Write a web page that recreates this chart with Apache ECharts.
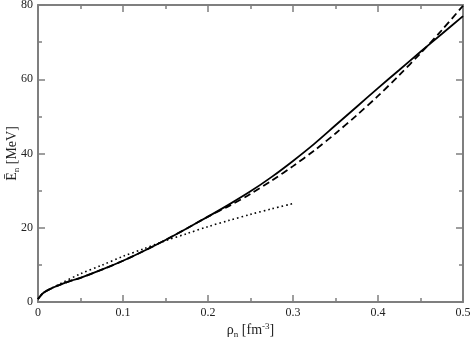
<!DOCTYPE html>
<html>
<head>
<meta charset="utf-8">
<script src="https://cdn.jsdelivr.net/npm/echarts@6/dist/echarts.min.js"></script>
<style>
  html, body { margin: 0; padding: 0; background: #fff; }
  #chart { width: 471px; height: 342px; }
</style>
</head>
<body>
<div id="chart"></div>
<script>
// density grid (fm^-3)
var rho = [0, 0.005, 0.01, 0.02, 0.03, 0.04, 0.05, 0.075, 0.1, 0.125, 0.15, 0.175, 0.2,
           0.225, 0.25, 0.275, 0.3, 0.325, 0.35, 0.375, 0.4, 0.425, 0.45, 0.475, 0.5];
// solid curve (MeV)
var eSolid = [0.8, 2.2, 3.0, 4.1, 5.0, 5.8, 6.5, 8.7, 11.1, 13.8, 16.7, 19.8, 23.0,
              26.3, 29.8, 33.7, 38.0, 42.6, 47.6, 52.6, 57.6, 62.5, 67.4, 72.2, 77.0];
// dashed curve (MeV)
var eDashed = [0.8, 2.2, 3.0, 4.1, 5.0, 5.8, 6.5, 8.7, 11.1, 13.8, 16.7, 19.8, 23.0,
               25.9, 29.1, 32.7, 36.6, 40.8, 45.4, 50.3, 55.5, 61.1, 67.0, 73.2, 79.8];
// dotted curve, stops at 0.3
var rhoDot = [0, 0.005, 0.01, 0.025, 0.05, 0.075, 0.1, 0.125, 0.15, 0.175, 0.2, 0.225, 0.25, 0.275, 0.3];
var eDotted = [0.8, 2.2, 3.0, 4.8, 7.6, 9.9, 12.3, 14.4, 16.5, 18.4, 20.3, 22.0, 23.6, 25.1, 26.5];

var xTicks = [0, 0.1, 0.2, 0.3, 0.4, 0.5];
var yTicks = [0, 20, 40, 60, 80];

function pairs(xs, ys) {
  var out = [];
  for (var i = 0; i < xs.length; i++) out.push([xs[i], ys[i]]);
  return out;
}

var font = 'Liberation Serif';
var gray = '#7f7f7f';

function axisBase(show) {
  return {
    axisLine: { show: true, onZero: false, lineStyle: { color: gray, width: 2 } },
    axisTick: { show: true, inside: true, length: 7, lineStyle: { color: gray, width: 1.5 } },
    minorTick: { show: true, splitNumber: 2, length: 4, lineStyle: { color: gray, width: 1.5 } },
    splitLine: { show: false },
    axisLabel: { show: show, fontFamily: font, fontSize: 12, color: '#222', margin: 5 }
  };
}

var xMain = echarts.util.merge(axisBase(true), {
  type: 'value', position: 'bottom', min: 0, max: 0.5, interval: 0.1,
  name: '{e|ρ}{s|n}{e| [fm}{p|-3}{e|]}',
  nameLocation: 'middle', nameGap: 20, nameMoveOverlap: false,
  nameTextStyle: {
    fontFamily: font, color: '#222',
    rich: {
      e: { fontFamily: font, fontSize: 14, color: '#222' },
      s: { fontFamily: font, fontSize: 9, color: '#222', padding: [8, 0, 0, 0] },
      p: { fontFamily: font, fontSize: 9, color: '#222', padding: [0, 0, 8, 0] }
    }
  },
  axisLabel: {
    formatter: function (v) { return xTicks.indexOf(+v.toFixed(2)) >= 0 ? String(+v.toFixed(2)) : ''; }
  }
});
var xTop = echarts.util.merge(axisBase(false), {
  type: 'value', position: 'top', min: 0, max: 0.5, interval: 0.1
});
var yMain = echarts.util.merge(axisBase(true), {
  type: 'value', position: 'left', min: 0, max: 80, interval: 20,
  name: '{e|Ē}{s|n}{e| [MeV]}',
  nameLocation: 'middle', nameGap: 17, nameRotate: 90, nameMoveOverlap: false,
  nameTextStyle: {
    fontFamily: font, color: '#222',
    rich: {
      e: { fontFamily: font, fontSize: 14, color: '#222' },
      s: { fontFamily: font, fontSize: 9, color: '#222', padding: [8, 0, 0, 0] }
    }
  },
  axisLabel: {
    formatter: function (v) { return yTicks.indexOf(v) >= 0 ? String(v) : ''; }
  }
});
var yRight = echarts.util.merge(axisBase(false), {
  type: 'value', position: 'right', min: 0, max: 80, interval: 20
});

var chart = echarts.init(document.getElementById('chart'), null, { renderer: 'canvas' });
chart.setOption({
  animation: false,
  backgroundColor: '#fff',
  grid: { left: 38, right: 8, top: 5, bottom: 40, containLabel: false, outerBoundsMode: 'none' },
  xAxis: [xMain, xTop],
  yAxis: [yMain, yRight],
  series: [
    {
      type: 'line', name: 'solid', data: pairs(rho, eSolid), smooth: 0.3,
      showSymbol: false, lineStyle: { color: '#000', width: 1.8, type: 'solid' }
    },
    {
      type: 'line', name: 'dashed', data: pairs(rho, eDashed), smooth: 0.3,
      showSymbol: false, lineStyle: { color: '#000', width: 1.8, type: [7, 4] }
    },
    {
      type: 'line', name: 'dotted', data: pairs(rhoDot, eDotted), smooth: 0.3,
      showSymbol: false, lineStyle: { color: '#000', width: 1.6, type: [1.6, 3] }
    }
  ]
});
</script>
</body>
</html>
